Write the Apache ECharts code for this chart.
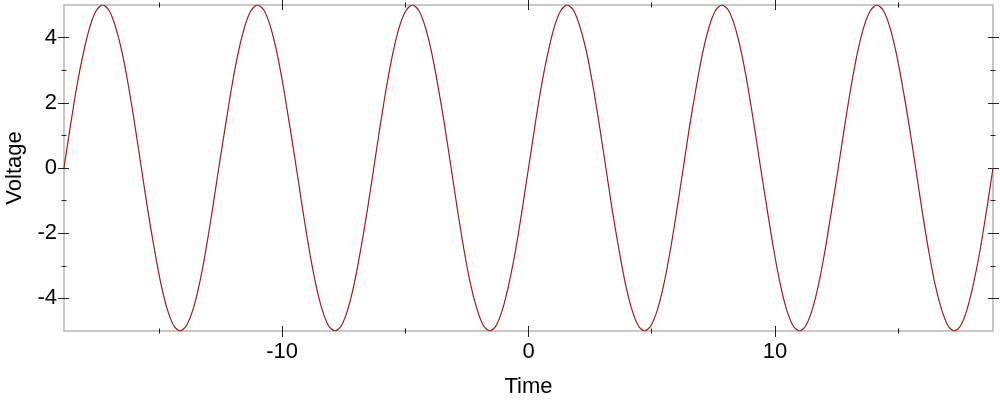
<!DOCTYPE html>
<html>
<head>
<meta charset="utf-8">
<script src="https://cdn.jsdelivr.net/npm/echarts@6/dist/echarts.min.js"></script>
<style>html,body{margin:0;padding:0;background:#fff}#c{width:1000px;height:400px}</style>
</head>
<body>
<div id="c"></div>
<script>
// Time samples (s)
const times = [
  -18.85, -18.59, -18.33, -18.06, -17.80, -17.54, -17.28, -17.02, -16.76, -16.49, -16.23, -15.97,
  -15.71, -15.45, -15.18, -14.92, -14.66, -14.40, -14.14, -13.88, -13.61, -13.35, -13.09, -12.83,
  -12.57, -12.30, -12.04, -11.78, -11.52, -11.26, -11.00, -10.73, -10.47, -10.21, -9.95, -9.69,
  -9.42, -9.16, -8.90, -8.64, -8.38, -8.12, -7.85, -7.59, -7.33, -7.07, -6.81, -6.54,
  -6.28, -6.02, -5.76, -5.50, -5.24, -4.97, -4.71, -4.45, -4.19, -3.93, -3.67, -3.40,
  -3.14, -2.88, -2.62, -2.36, -2.09, -1.83, -1.57, -1.31, -1.05, -0.79, -0.52, -0.26,
  0, 0.26, 0.52, 0.79, 1.05, 1.31, 1.57, 1.83, 2.09, 2.36, 2.62, 2.88,
  3.14, 3.40, 3.67, 3.93, 4.19, 4.45, 4.71, 4.97, 5.24, 5.50, 5.76, 6.02,
  6.28, 6.54, 6.81, 7.07, 7.33, 7.59, 7.85, 8.12, 8.38, 8.64, 8.90, 9.16,
  9.42, 9.69, 9.95, 10.21, 10.47, 10.73, 11.00, 11.26, 11.52, 11.78, 12.04, 12.30,
  12.57, 12.83, 13.09, 13.35, 13.61, 13.88, 14.14, 14.40, 14.66, 14.92, 15.18, 15.45,
  15.71, 15.97, 16.23, 16.49, 16.76, 17.02, 17.28, 17.54, 17.80, 18.06, 18.33, 18.59,
  18.85
];
// Voltage values read at those times
const volts = [
  0, 1.29, 2.5, 3.54, 4.33, 4.83, 5, 4.83, 4.33, 3.54, 2.5, 1.29, 0, -1.29, -2.5, -3.54, -4.33, -4.83, -5, -4.83, -4.33, -3.54, -2.5, -1.29,
  0, 1.29, 2.5, 3.54, 4.33, 4.83, 5, 4.83, 4.33, 3.54, 2.5, 1.29, 0, -1.29, -2.5, -3.54, -4.33, -4.83, -5, -4.83, -4.33, -3.54, -2.5, -1.29,
  0, 1.29, 2.5, 3.54, 4.33, 4.83, 5, 4.83, 4.33, 3.54, 2.5, 1.29, 0, -1.29, -2.5, -3.54, -4.33, -4.83, -5, -4.83, -4.33, -3.54, -2.5, -1.29,
  0, 1.29, 2.5, 3.54, 4.33, 4.83, 5, 4.83, 4.33, 3.54, 2.5, 1.29, 0, -1.29, -2.5, -3.54, -4.33, -4.83, -5, -4.83, -4.33, -3.54, -2.5, -1.29,
  0, 1.29, 2.5, 3.54, 4.33, 4.83, 5, 4.83, 4.33, 3.54, 2.5, 1.29, 0, -1.29, -2.5, -3.54, -4.33, -4.83, -5, -4.83, -4.33, -3.54, -2.5, -1.29,
  0, 1.29, 2.5, 3.54, 4.33, 4.83, 5, 4.83, 4.33, 3.54, 2.5, 1.29, 0, -1.29, -2.5, -3.54, -4.33, -4.83, -5, -4.83, -4.33, -3.54, -2.5, -1.29,
  0
];
const xMajorTicks = [-10, 0, 10];
const xMinorTicks = [-15, -5, 5, 15];
const yMajorTicks = [-4, -2, 0, 2, 4];
const yMinorTicks = [-3, -1, 1, 3];
const xRange = [-18.85, 18.85];
const yRange = [-5, 5];
const xName = 'Time';
const yName = 'Voltage';

const FONT = "'Liberation Sans', Arial, sans-serif";
const tickColor = '#222';

function xAx(pos, ticks, len, offset, labels) {
  return {
    type: 'value', position: pos, min: xRange[0], max: xRange[1], offset: offset,
    axisLine: { show: false, onZero: false },
    axisTick: { show: true, inside: false, length: len, customValues: ticks, lineStyle: { color: tickColor, width: 1 } },
    axisLabel: labels ? { show: true, customValues: ticks, margin: 15, fontSize: 22, color: '#000', fontFamily: FONT } : { show: false },
    splitLine: { show: false },
    name: labels ? xName : '', nameLocation: 'middle', nameGap: 50,
    nameTextStyle: { fontSize: 22, color: '#000', fontFamily: FONT }
  };
}
function yAx(pos, ticks, len, offset, labels) {
  return {
    type: 'value', position: pos, min: yRange[0], max: yRange[1], offset: offset,
    axisLine: { show: false, onZero: false },
    axisTick: { show: true, inside: false, length: len, customValues: ticks, lineStyle: { color: tickColor, width: 1 } },
    axisLabel: labels ? { show: true, customValues: ticks, margin: 12, fontSize: 22, color: '#000', fontFamily: FONT } : { show: false },
    splitLine: { show: false },
    name: labels ? yName : '', nameLocation: 'middle', nameGap: 43,
    nameTextStyle: { fontSize: 22, color: '#000', fontFamily: FONT }
  };
}

const chart = echarts.init(document.getElementById('c'), null, { renderer: 'canvas' });
chart.setOption({
  animation: false,
  backgroundColor: '#fff',
  grid: { left: 64, right: 7, top: 5, bottom: 69, show: true, borderColor: '#b5b5b5', borderWidth: 1.5, backgroundColor: 'transparent', containLabel: false, outerBoundsMode: 'none' },
  xAxis: [
    xAx('bottom', xMajorTicks, 11, -5, true),
    xAx('bottom', xMinorTicks, 5, -2.5, false),
    xAx('top', xMajorTicks, 11, -5, false),
    xAx('top', xMinorTicks, 5, -2.5, false)
  ],
  yAxis: [
    yAx('left', yMajorTicks, 11, -5, true),
    yAx('left', yMinorTicks, 5, -2.5, false),
    yAx('right', yMajorTicks, 11, -5, false),
    yAx('right', yMinorTicks, 5, -2.5, false)
  ],
  series: [{
    type: 'line', xAxisIndex: 0, yAxisIndex: 0,
    data: times.map((t, i) => [t, volts[i]]),
    smooth: 0.3, showSymbol: false,
    lineStyle: { color: '#a01a1a', width: 1.2 }
  }]
});
</script>
</body>
</html>
